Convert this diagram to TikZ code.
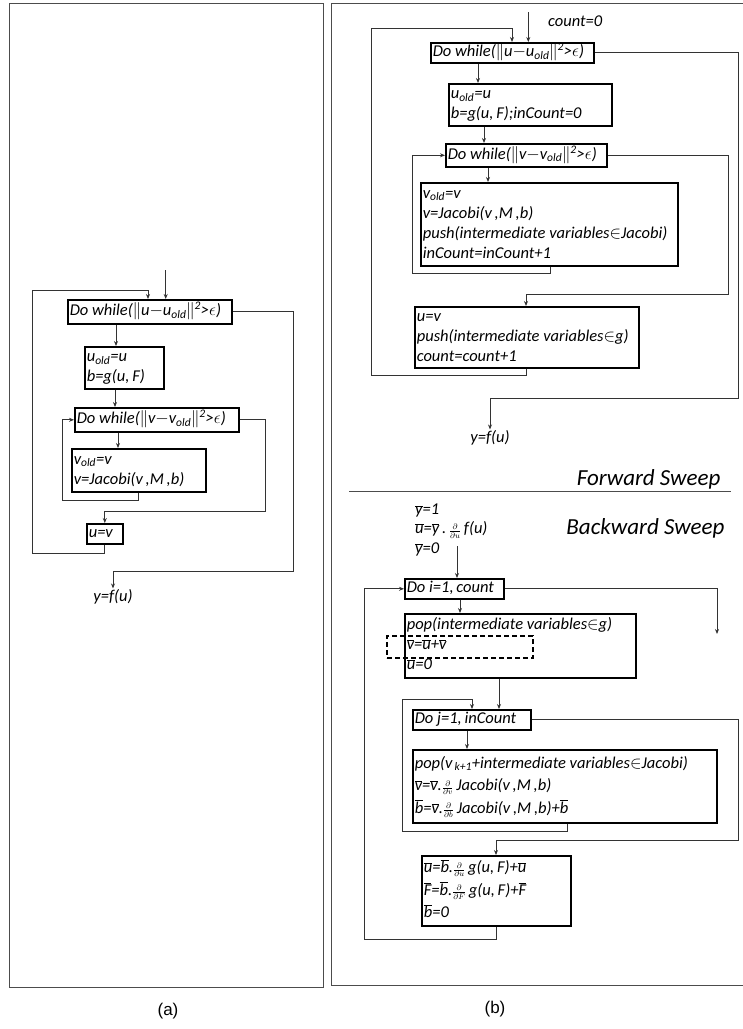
\documentclass[tikz,border=0pt]{standalone}
\usepackage{fontspec}
\setmainfont{Carlito}
\newfontfamily\capfont{Liberation Sans}
\usetikzlibrary{arrows.meta,calc}

% notation helpers
\newcommand{\ob}[1]{$\overline{\hbox{#1}}$}
\newcommand{\old}{\textsubscript{old}}
\newcommand{\nrm}{$|\mkern-1.5mu|$}
\newcommand{\pd}[1]{${\scriptstyle\frac{\partial}{\partial #1}}$}
\newcommand{\boxtext}{\fontsize{16.5}{20}\selectfont\itshape}
\newcommand{\sweeptext}{\fontsize{23}{26}\selectfont\itshape}
\newcommand{\rowstretch}{1}

% process box with corners (x1,y1) and (x2,y2); y grows downwards
\newcommand{\stepnode}[6]{%
  \pgfmathsetmacro\bw{#4-#2}%
  \pgfmathsetmacro\tw{#4-#2-4}%
  \pgfmathsetmacro\bh{#5-#3}%
  \node[box, minimum width=\bw pt, minimum height=\bh pt] (#1) at (#2,#3)
    {\renewcommand{\arraystretch}{\rowstretch}%
     \makebox[\tw pt][l]{\begin{tabular}{@{}l@{}}#6\end{tabular}}};}
% straight drop from a box bottom (offset from its left edge) to the top of the next box
\newcommand{\drop}[3]{%
  \draw[arr] ($(#1.south west)+(#2,0)$) coordinate (tmp) -- (tmp |- #3.north);}

\tikzset{
  box/.style={draw, line width=1.6pt, anchor=north west, inner xsep=2pt,
    inner ysep=0pt, font=\boxtext},
  dashbox/.style={draw, line width=2pt, dash pattern=on 5pt off 3pt,
    anchor=north west},
  link/.style={line width=0.8pt, draw=black!80},
  arr/.style={link, -{Stealth[length=5pt,width=4pt]}},
  panel/.style={draw=black!70, line width=1pt},
  plain/.style={font=\boxtext, inner sep=1pt},
}

\begin{document}
\begin{tikzpicture}[x=1pt,y=-1pt]
\useasboundingbox (0,0) rectangle (743,1029);

% panels
\draw[panel] (9.5,3) rectangle (323,987);
\draw[panel] (331,3) rectangle (760,985);
\draw[panel] (349,491) -- (731,491);
\node[font=\capfont\fontsize{17}{20}\selectfont] (capa) at (168,1011) {(a)};
\node[font=\capfont\fontsize{17}{20}\selectfont] (capb) at (495,1009) {(b)};

% ---------------- (a) plain fixed point iteration ----------------
\stepnode{L1}{67}{299}{231}{323}{Do while(\nrm u$-$u\old\nrm\textsuperscript{2}>$\epsilon$)}
\stepnode{L2}{84}{346}{163}{388}{u\old=u\\b=g(u,\,F)}
\stepnode{L3}{74}{407}{238}{431}{Do while(\nrm v$-$v\old\nrm\textsuperscript{2}>$\epsilon$)}
\stepnode{L4}{71}{448}{205}{491}{v\old=v\\v=Jacobi(v\,,M\,,b)}
\stepnode{L5}{86}{523}{122}{543}{u=v}
\node[plain] (Lyf) at (113,597) {y=f(u)};
\coordinate (Lin) at (165.7,270);

\draw[arr] (Lin) -- (Lin |- L1.north);
\drop{L1}{49}{L2}
\drop{L2}{31}{L3}
\drop{L3}{44}{L4}
\draw[arr] ($(L4.south west)+(67,0)$) |- (62,500) |- (L3.west);
\draw[arr] (L3.east) -| (265,511) -| (L5.north);
\draw[arr] (L5.south) -- ++(0,9) -| (32,290) -| ($(L1.north west)+(81,0)$);
\draw[arr] (L1.east) -| (293,571) -| (Lyf.north);

% ---------------- (b) forward sweep ----------------
\node[plain, anchor=west] (cnt) at (547,21) {count=0};
\stepnode{R1}{430}{42}{593}{61}{Do while(\nrm u$-$u\old\nrm\textsuperscript{2}>$\epsilon$)}
\stepnode{R2}{448}{83}{611}{125}{u\old=u\\b=g(u,\,F);inCount=0}
\stepnode{R3}{445}{143}{606}{166}{Do while(\nrm v$-$v\old\nrm\textsuperscript{2}>$\epsilon$)}
\stepnode{R4}{420}{182}{677}{265}{v\old=v\\v=Jacobi(v\,,M\,,b)\\push(intermediate variables$\in$Jacobi)\\inCount=inCount+1}
\stepnode{R5}{414}{306}{638}{367}{u=v\\push(intermediate variables$\in$g)\\count=count+1}
\node[plain] (Ryf) at (490,438) {y=f(u)};
\node[font=\sweeptext, anchor=east] (fw) at (724,479) {Forward Sweep};
\coordinate (Rin) at (528.3,12);

\draw[arr] (Rin) -- (Rin |- R1.north);
\drop{R1}{48}{R2}
\drop{R2}{36}{R3}
\drop{R3}{43}{R4}
\draw[arr] ($(R4.south west)+(130,0)$) |- (412,273) |- (R3.west);
\draw[arr] (R3.east) -| (728,294) -| ($(R5.north west)+(112,0)$);
\draw[arr] ($(R5.south west)+(112,0)$) |- (371,375) |- (512,28) -- ($(R1.north west)+(82,0)$);
\draw[arr] (R1.east) -| (738,398) -| (Ryf.north);

% ---------------- (b) backward sweep ----------------
\node[plain, anchor=west] (yb1) at (414,511) {\itshape\ob{y}=1};
\node[plain, anchor=west] (ub) at (414,530) {\itshape\ob{u}=\ob{y}\,.\,\pd{u}\,f(u)};
\node[plain, anchor=west] (yb0) at (414,549) {\itshape\ob{y}=0};
\node[font=\sweeptext, anchor=east] (bw) at (728,528) {Backward Sweep};

\stepnode{B1}{404}{578}{503}{595}{Do i=1,\,count}
\stepnode{B2}{404}{613}{635}{677}{pop(intermediate variables$\in$g)\\\ob{v}=\ob{u}+\ob{v}\\\ob{u}=0}
\node[dashbox, minimum width=146pt, minimum height=22pt] (dv) at (386,635) {};
\stepnode{B3}{412}{709}{530}{726}{Do j=1,\,inCount}
\renewcommand{\rowstretch}{1.13}
\stepnode{B4}{412}{749}{716}{822}{pop(v\textsubscript{\,k+1}+intermediate variables$\in$Jacobi)\\\ob{v}=\ob{v}.\pd{v}\,Jacobi(v\,,M\,,b)\\\ob{b}=\ob{v}.\pd{b}\,Jacobi(v\,,M\,,b)+\ob{b}}
\stepnode{B5}{421}{855}{570}{925}{\ob{u}=\ob{b}.\pd{u}\,g(u,\,F)+\ob{u}\\\ob{F}=\ob{b}.\pd{F}\,g(u,\,F)+\ob{F}\\\ob{b}=0}
\renewcommand{\rowstretch}{1}
\coordinate (Bin) at (457,546);
\coordinate (Bout) at (717,634);

\draw[arr] (Bin) -- (Bin |- B1.north);
\draw[arr] (B1.east) -| (Bout);
\drop{B1}{56}{B2}
\drop{B2}{95}{B3}
\drop{B3}{55}{B4}
\draw[arr] ($(B4.south west)+(155,0)$) |- (402,831) |- (472,699) -- ($(B3.north west)+(60,0)$);
\draw[arr] (B3.east) -| (738,840) -| ($(B5.north west)+(75,0)$);
\draw[arr] ($(B5.south west)+(75,0)$) |- (364,939) |- (B1.west);
\end{tikzpicture}
\end{document}
